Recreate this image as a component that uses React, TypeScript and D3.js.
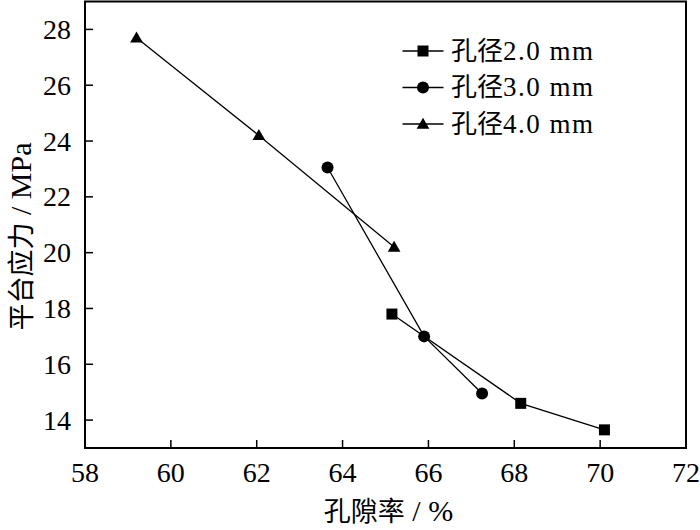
import React from "react";
import * as d3 from "d3";

const xTicks = [58, 60, 62, 64, 66, 68, 70, 72];
const yTicks = [14, 16, 18, 20, 22, 24, 26, 28];

const s2x = [65.15, 68.15, 70.1];
const s2y = [17.8, 14.6, 13.65];
const s3x = [63.65, 65.9, 67.25];
const s3y = [23.05, 17.0, 14.95];
const s4x = [59.2, 62.05, 65.2];
const s4y = [27.7, 24.2, 20.2];

const seriesNames = ["孔径2.0 mm", "孔径3.0 mm", "孔径4.0 mm"];
const markers = ["square", "circle", "triangle"];

const W = 700, H = 530;
const L = 85, R = 686, T = 1.5, B = 448;

const x = d3.scaleLinear().domain([58, 72]).range([L, R]);
const y = d3.scaleLinear().domain([13, 29]).range([B, T]);

const serif = "'Liberation Serif', 'Times New Roman', serif";
const cjk = "'Noto Sans CJK SC', sans-serif";

function Marker({ type, cx, cy }: { type: string; cx: number; cy: number }) {
  if (type === "square") return <rect x={cx - 5.5} y={cy - 5.5} width={11} height={11} fill="#000" />;
  if (type === "circle") return <circle cx={cx} cy={cy} r={6} fill="#000" />;
  const sym = d3.symbol().type(d3.symbolTriangle).size(70)()!;
  return <path d={sym} transform={`translate(${cx},${cy + 1})`} fill="#000" />;
}

export default function App() {
  const data = [
    s2x.map((v, i) => [v, s2y[i]]),
    s3x.map((v, i) => [v, s3y[i]]),
    s4x.map((v, i) => [v, s4y[i]]),
  ];
  const line = d3.line<number[]>().x((d) => x(d[0])).y((d) => y(d[1]));
  return (
    <svg width={W} height={H} style={{ position: "absolute", left: 0, top: 0, background: "#fff" }}>
      <rect x={0} y={0} width={W} height={H} fill="#fff" />
      {xTicks.map((t) => (
        <g key={"x" + t}>
          <line x1={x(t)} x2={x(t)} y1={B} y2={B - 8} stroke="#000" strokeWidth={1.5} />
          <text x={x(t)} y={481.5} textAnchor="middle" fontFamily={serif} fontSize={28}>{t}</text>
        </g>
      ))}
      {yTicks.map((t) => (
        <g key={"y" + t}>
          <line x1={L} x2={L + 8} y1={y(t)} y2={y(t)} stroke="#000" strokeWidth={1.5} />
          <text x={L - 14} y={y(t) + 9.5} textAnchor="end" fontFamily={serif} fontSize={28}>{t}</text>
        </g>
      ))}
      {data.map((d, i) => (
        <path key={"l" + i} d={line(d as number[][])!} fill="none" stroke="#000" strokeWidth={1.3} />
      ))}
      {data.map((d, i) =>
        d.map((p, j) => <Marker key={`m${i}-${j}`} type={markers[i]} cx={x(p[0])} cy={y(p[1])} />)
      )}
      <rect x={L} y={T} width={R - L} height={B - T} fill="none" stroke="#000" strokeWidth={2} />
      {seriesNames.map((n, i) => {
        const cy = 51 + i * 36.5;
        return (
          <g key={"lg" + i}>
            <line x1={402.5} x2={443.5} y1={cy} y2={cy} stroke="#000" strokeWidth={1.3} />
            <Marker type={markers[i]} cx={423} cy={cy} />
            <text x={451} y={cy + 8.5} fontSize={26}>
              <tspan fontFamily={cjk} fontSize={26}>{n.slice(0, 2)}</tspan>
              <tspan fontFamily={serif} fontSize={27} letterSpacing={1.5}>{n.slice(2)}</tspan>
            </text>
          </g>
        );
      })}
      <text x={388.5} y={521} textAnchor="middle" fontSize={30}>
        <tspan fontFamily={cjk} fontSize={27}>孔隙率</tspan>
        <tspan fontFamily={serif}> / %</tspan>
      </text>
      <text transform={`translate(31,236.5) rotate(-90)`} textAnchor="middle" fontSize={30}>
        <tspan fontFamily={cjk} fontSize={27}>平台应力</tspan>
        <tspan fontFamily={serif}> / MPa</tspan>
      </text>
    </svg>
  );
}
